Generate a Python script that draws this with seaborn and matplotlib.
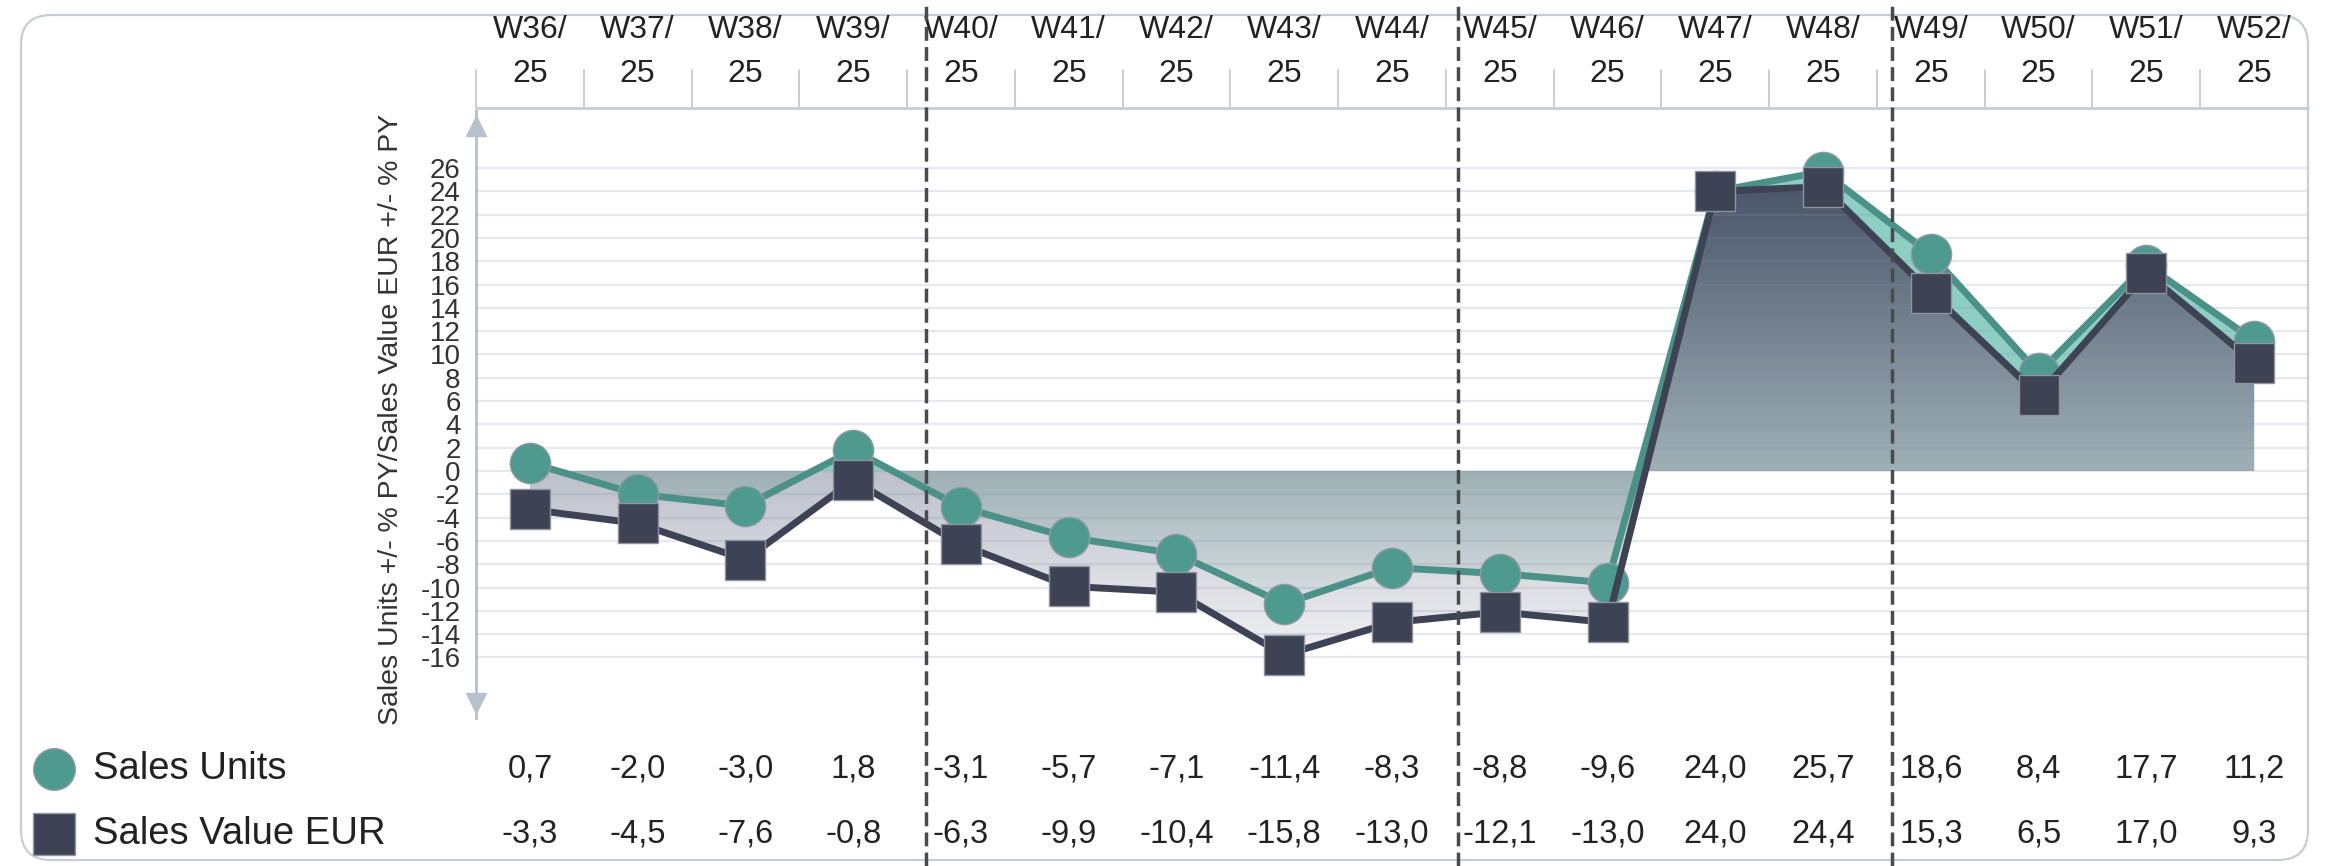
import numpy as np
import pandas as pd
import seaborn as sns
import matplotlib.pyplot as plt
import matplotlib.transforms as mtransforms
from matplotlib.colors import LinearSegmentedColormap
from matplotlib.patches import FancyBboxPatch
from matplotlib.lines import Line2D
from matplotlib.path import Path

# data
weeks = ['W36', 'W37', 'W38', 'W39', 'W40', 'W41', 'W42', 'W43', 'W44',
         'W45', 'W46', 'W47', 'W48', 'W49', 'W50', 'W51', 'W52']
year = '25'
units = [0.7, -2.0, -3.0, 1.8, -3.1, -5.7, -7.1, -11.4, -8.3,
         -8.8, -9.6, 24.0, 25.7, 18.6, 8.4, 17.7, 11.2]
value = [-3.3, -4.5, -7.6, -0.8, -6.3, -9.9, -10.4, -15.8, -13.0,
         -12.1, -13.0, 24.0, 24.4, 15.3, 6.5, 17.0, 9.3]
month_breaks = [3.68, 8.61, 12.64]
y_ticks = list(range(-16, 27, 2))
y_label = 'Sales Units +/- % PY/Sales Value EUR +/- % PY'
series_names = ['Sales Units', 'Sales Value EUR']

df = pd.DataFrame({'pos': np.arange(len(weeks)), 'week': weeks,
                   'units': units, 'value': value})

teal = '#4e9a8e'
teal_line = '#4b9188'
dark = '#3d4354'
W, H = 2331, 866

sns.set_theme(style='white')
plt.rcParams['font.family'] = ['Liberation Sans', 'DejaVu Sans']

fig = plt.figure(figsize=(W / 100, H / 100), dpi=100)
ax = fig.add_axes([476 / W, 1 - 718 / H, (2308 - 476) / W, (718 - 111) / H])
XL = (-0.5, len(weeks) - 0.5)
YL = (-21.2, 30.9)


def gradient_fill(coll, c_low, c_high, y_low, y_high, z):
    paths = coll.get_paths()
    coll.remove()
    if not paths:
        return
    clip = Path.make_compound_path(*paths)
    cmap = LinearSegmentedColormap.from_list('g', [c_low, c_high])
    im = ax.imshow(np.linspace(0, 1, 256).reshape(-1, 1), cmap=cmap,
                   aspect='auto', origin='lower', interpolation='bilinear',
                   extent=[XL[0], XL[1], y_low, y_high], zorder=z)
    im.set_clip_path(clip, ax.transData)


x = df['pos'].values
u = df['units'].values
v = df['value'].values

# negative area
c = ax.fill_between(x, v, 0, where=v < 0, interpolate=True)
gradient_fill(c, '#f2f2f5', '#bcc0ca', -16, 0, 1)
c = ax.fill_between(x, u, 0, where=u < 0, interpolate=True)
gradient_fill(c, '#e9ebee', '#9cafb3', -14, 0, 1.1)
# positive area
ax.fill_between(x, u, 0, where=u > 0, interpolate=True,
                color='#8fcfc3', lw=0, zorder=1.2)
c = ax.fill_between(x, v, 0, where=v > 0, interpolate=True)
gradient_fill(c, '#9fb0b6', '#485367', 0, 25, 1.3)

sns.lineplot(data=df, x='pos', y='units', ax=ax, color=teal_line,
             linewidth=5, marker='o', markersize=29, markerfacecolor=teal,
             markeredgecolor='#8f9aa3', markeredgewidth=1, zorder=5)
sns.lineplot(data=df, x='pos', y='value', ax=ax, color=dark, linewidth=5,
             marker='s', markersize=29, markeredgecolor='#8f939e',
             markeredgewidth=1, zorder=6)

ax.set_xlim(XL)
ax.set_ylim(YL)
ax.set_xticks([])
ax.set_yticks(y_ticks)
ax.set_yticklabels([str(t) for t in y_ticks], fontsize=20, color='#333333')
ax.tick_params(axis='y', length=8, width=1.2, color='#c0c6d2', pad=3)
ax.set_xlabel('')
ax.set_ylabel('')
ax.set_axisbelow(False)
ax.yaxis.grid(True, color='#8090b0', alpha=0.2, linewidth=1.6)
for s in ['top', 'right', 'bottom']:
    ax.spines[s].set_visible(False)
ax.spines['left'].set_color('#b9c0cd')
ax.spines['left'].set_linewidth(2)
ax.plot(0, 0.975, marker='^', ms=15, color='#b9c0cd', transform=ax.transAxes,
        clip_on=False)
ax.plot(0, 0.025, marker='v', ms=15, color='#b9c0cd', transform=ax.transAxes,
        clip_on=False)

fig.text(391 / W, 1 - 419 / H, y_label, rotation=90, fontsize=20.5,
         ha='center', va='center', color='#333333')

# outer rounded frame
fig.add_artist(FancyBboxPatch((0.21, 0.06), 22.87, 8.45,
                              boxstyle='round,pad=0,rounding_size=0.3',
                              transform=fig.dpi_scale_trans, fill=False,
                              edgecolor='#c8ccd6', linewidth=1.6))

# header with week labels
bt = mtransforms.blended_transform_factory(ax.transData, fig.transFigure)
fig.add_artist(Line2D([XL[0], XL[1]], [1 - 108 / H] * 2, transform=bt,
                      color='#c8ccd8', linewidth=2))
for i, w in enumerate(weeks):
    fig.text(i, 1 - 30 / H, w + '/', transform=bt, fontsize=23,
             ha='center', va='center', color='#222222')
    fig.text(i, 1 - 74 / H, year, transform=bt, fontsize=23,
             ha='center', va='center', color='#222222')
    fig.add_artist(Line2D([i - 0.5, i - 0.5], [1 - 70 / H, 1 - 108 / H],
                          transform=bt, color='#c8ccd8', linewidth=1.4))

# value table
rows_y = [1 - 769 / H, 1 - 834 / H]
for ry, name, vals, mk, col in zip(rows_y, series_names, [units, value],
                                   ['o', 's'], [teal, dark]):
    fig.add_artist(Line2D([54 / W], [ry], marker=mk, markersize=30,
                          color=col, markeredgecolor='#8f9aa3',
                          markeredgewidth=1, transform=fig.transFigure))
    fig.text(93 / W, ry, name, fontsize=27.5, ha='left', va='center',
             color='#222222')
    for i, val in enumerate(vals):
        fig.text(i, ry, f'{val:.1f}'.replace('.', ','), transform=bt,
                 fontsize=23.5, ha='center', va='center', color='#222222')

# month separators
for mb in month_breaks:
    fig.add_artist(Line2D([mb, mb], [0, 1], transform=bt, color='#4a4a4a',
                          linewidth=2.5, linestyle=(0, (4, 1.8)), zorder=10))

fig.savefig('out.png', dpi=100)
